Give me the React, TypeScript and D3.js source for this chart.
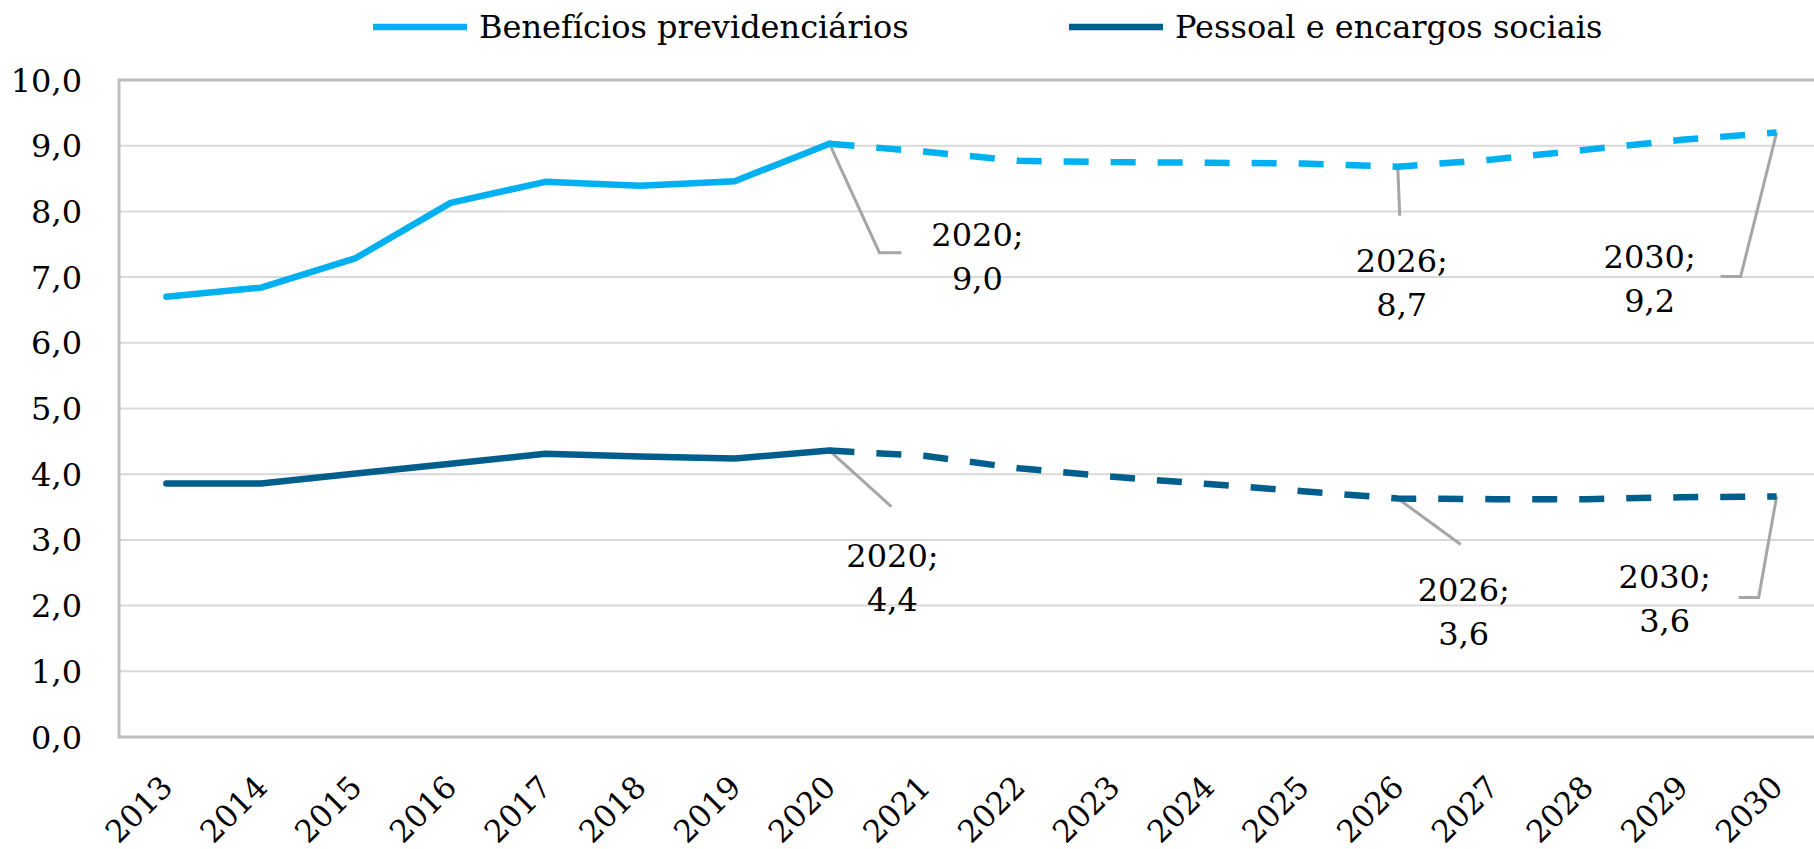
import React from "react";
import * as d3 from "d3";

const years = [2013, 2014, 2015, 2016, 2017, 2018, 2019, 2020, 2021, 2022, 2023, 2024, 2025, 2026, 2027, 2028, 2029, 2030];
const beneficios = [6.70, 6.84, 7.29, 8.13, 8.45, 8.39, 8.46, 9.03, 8.91, 8.77, 8.75, 8.74, 8.73, 8.68, 8.79, 8.94, 9.09, 9.20];
const pessoal = [3.86, 3.86, 4.01, 4.16, 4.31, 4.27, 4.24, 4.36, 4.28, 4.09, 3.96, 3.85, 3.74, 3.63, 3.62, 3.62, 3.65, 3.66];
const yTicks = [0, 1, 2, 3, 4, 5, 6, 7, 8, 9, 10];
const lastActualYear = 2020;
const seriesNames = ["Benefícios previdenciários", "Pessoal e encargos sociais"];
const seriesColors = ["#00B0F0", "#005E8C"];

// annotations: series index, year, text
const annotations = [
  { s: 0, year: 2020, text: ["2020;", "9,0"], leader: [[50, 109], [72, 109]], label: [148, 102] },
  { s: 0, year: 2026, text: ["2026;", "8,7"], leader: [[2, 49]], label: [4, 105] },
  { s: 0, year: 2030, text: ["2030;", "9,2"], leader: [[-36, 144], [-56, 144]], label: [-127, 135] },
  { s: 1, year: 2020, text: ["2020;", "4,4"], leader: [[62, 56]], label: [63, 116] },
  { s: 1, year: 2026, text: ["2026;", "3,6"], leader: [[63, 46]], label: [66, 102] },
  { s: 1, year: 2030, text: ["2030;", "3,6"], leader: [[-18, 101], [-38, 101]], label: [-112, 91] },
];

const W = 1814;
const H = 849;
const FONT = "'DejaVu Serif', serif";
const INK = "#000";

export default function App() {
  const left = 119, right = 1824, top = 80, bottom = 737;
  const x = d3.scaleBand<number>().domain(years).range([left, right]).padding(0);
  const cx = (yr: number) => (x(yr) as number) + x.bandwidth() / 2;
  const y = d3.scaleLinear().domain([0, 10]).range([bottom, top]);
  const line = d3.line<[number, number]>().x(d => cx(d[0])).y(d => y(d[1]));
  const data = [beneficios, pessoal];
  const idx = years.indexOf(lastActualYear);

  return (
    <svg width={W} height={H} style={{ position: "absolute", left: 0, top: 0, background: "#fff" }}>
      {/* gridlines */}
      {yTicks.map(t => (
        <line key={t} x1={left} x2={right} y1={y(t)} y2={y(t)} stroke="#D9D9D9" strokeWidth={2} />
      ))}
      {/* plot border */}
      <line x1={left} x2={right} y1={y(10)} y2={y(10)} stroke="#BFBFBF" strokeWidth={3} />
      <line x1={left} x2={right} y1={y(0)} y2={y(0)} stroke="#BFBFBF" strokeWidth={3} />
      <line x1={left} x2={left} y1={y(10) - 1.5} y2={y(0) + 1.5} stroke="#BFBFBF" strokeWidth={3} />
      {/* y labels */}
      {yTicks.map(t => (
        <text key={t} x={82} y={y(t)} dy="0.36em" textAnchor="end" fontFamily={FONT} fontSize={32} fill={INK}>
          {d3.format(".1f")(t).replace(".", ",")}
        </text>
      ))}
      {/* x labels */}
      {years.map(yr => (
        <text key={yr} transform={`translate(${cx(yr) + 8},${789}) rotate(-45)`} textAnchor="end" fontFamily={FONT} fontSize={31} fill={INK}>
          {yr}
        </text>
      ))}
      {/* leaders */}
      {annotations.map((a, i) => {
        const px = cx(a.year), py = y(data[a.s][years.indexOf(a.year)]);
        const pts = [[px, py], ...a.leader.map(([dx, dy]) => [px + dx, py + dy])];
        return <polyline key={i} points={pts.map(p => p.join(",")).join(" ")} fill="none" stroke="#A6A6A6" strokeWidth={3} />;
      })}
      {/* series */}
      {data.map((vals, s) => {
        const pts: [number, number][] = years.map((yr, i) => [yr, vals[i]]);
        return (
          <g key={s}>
            <path d={line(pts.slice(0, idx + 1)) as string} fill="none" stroke={seriesColors[s]} strokeWidth={6.5} strokeLinejoin="round" strokeLinecap="round" />
            <path d={line(pts.slice(idx)) as string} fill="none" stroke={seriesColors[s]} strokeWidth={6.5} strokeDasharray="25 22" strokeLinejoin="round" />
          </g>
        );
      })}
      {/* annotation labels */}
      {annotations.map((a, i) => {
        const px = cx(a.year), py = y(data[a.s][years.indexOf(a.year)]);
        return (
          <text key={i} textAnchor="middle" fontFamily={FONT} fontSize={32} fill={INK}>
            {a.text.map((t, j) => (
              <tspan key={j} x={px + a.label[0]} y={py + a.label[1] + j * 44}>{t}</tspan>
            ))}
          </text>
        );
      })}
      {/* legend */}
      {seriesNames.map((n, i) => {
        const lx = [373, 1069][i];
        return (
          <g key={n}>
            <line x1={lx} x2={lx + 94} y1={27} y2={27} stroke={seriesColors[i]} strokeWidth={6.5} />
            <text x={lx + 106} y={38} fontFamily={FONT} fontSize={32} fill={INK}>{n}</text>
          </g>
        );
      })}
    </svg>
  );
}
